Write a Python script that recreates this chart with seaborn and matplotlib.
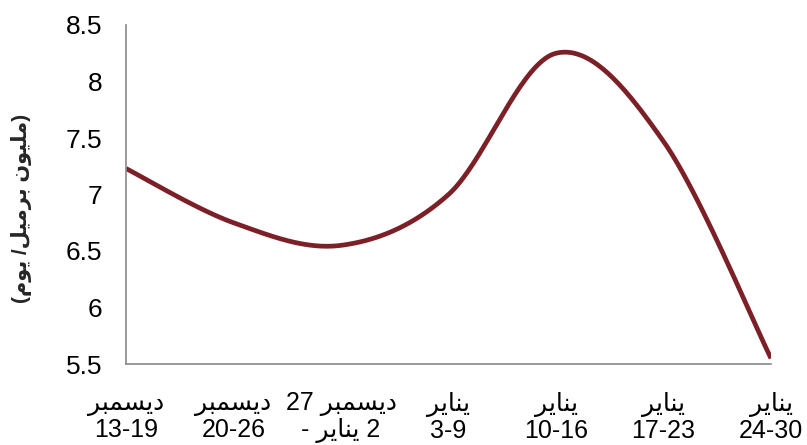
import numpy as np
import pandas as pd
import seaborn as sns
import matplotlib
matplotlib.use("Agg")
import matplotlib.pyplot as plt

# ----- Data -----
# Arabic words are written with presentation forms in visual order,
# because matplotlib does no Arabic shaping / bidi on its own.
DEC = "\uFEAE\uFE92\uFEE4\uFEB4\uFEF3\uFEA9"   # ديسمبر
JAN = "\uFEAE\uFEF3\uFE8E\uFEE8\uFEF3"          # يناير

week_labels = [
    DEC + "\n13-19",
    DEC + "\n20-26",
    "27 " + DEC + "\n- " + JAN + " 2",
    JAN + "\n3-9",
    JAN + "\n10-16",
    JAN + "\n17-23",
    JAN + "\n24-30",
]
production = [7.23, 6.75, 6.55, 7.0, 8.25, 7.47, 5.55]

# (مليون برميل/ يوم)
y_title = ("(" + "\uFEE1\uFEEE\uFEF3" + " /" + "\uFEDE\uFEF4\uFEE3\uFEAE\uFE91"
           + " " + "\uFEE5\uFEEE\uFEF4\uFEE0\uFEE3" + ")")

LINE_COLOR = "#7B2027"
AXIS_GRAY = "#898989"


# ----- Helpers -----
def smooth_curve(xs, ys, n=40):
    # Excel-style smoothed line: cubic Bezier with Catmull-Rom control points
    pts = np.column_stack([xs, ys]).astype(float)
    padded = np.vstack([pts[0], pts, pts[-1]])
    t = np.linspace(0, 1, n)[:, None]
    parts = []
    for i in range(len(pts) - 1):
        p0, p1, p2, p3 = padded[i], padded[i + 1], padded[i + 2], padded[i + 3]
        c1 = p1 + (p2 - p0) / 6
        c2 = p2 - (p3 - p1) / 6
        seg = ((1 - t) ** 3) * p1 + 3 * ((1 - t) ** 2) * t * c1 \
            + 3 * (1 - t) * t ** 2 * c2 + t ** 3 * p2
        parts.append(seg if i == 0 else seg[1:])
    return np.vstack(parts)


sns.set_style("white")
plt.rcParams["font.family"] = ["Liberation Sans", "DejaVu Sans"]

fig = plt.figure(figsize=(8.07, 4.45), dpi=100)
ax = fig.add_axes([126 / 807, 1 - 364 / 445, (771 - 126) / 807, (364 - 25) / 445])

x_pos = np.arange(len(production))
curve = smooth_curve(x_pos, production)
df = pd.DataFrame({"x": curve[:, 0], "y": curve[:, 1]})
sns.lineplot(data=df, x="x", y="y", sort=False, estimator=None, ax=ax,
             color=LINE_COLOR, linewidth=3.4, solid_capstyle="butt")

ax.set_xlim(0, len(production) - 1)
ax.set_ylim(5.5, 8.5)
ax.set_yticks(np.arange(5.5, 8.51, 0.5))
ax.set_yticklabels(["5.5", "6", "6.5", "7", "7.5", "8", "8.5"])
ax.set_xticks(x_pos)
ax.set_xticklabels(week_labels)
ax.set_xlabel("")
ax.set_ylabel("")

for side in ["top", "right"]:
    ax.spines[side].set_visible(False)
for side in ["left", "bottom"]:
    ax.spines[side].set_color(AXIS_GRAY)
    ax.spines[side].set_linewidth(1.2)

ax.tick_params(axis="y", direction="out", length=6, width=1.2, color=AXIS_GRAY,
               pad=11, labelsize=19, labelcolor="black")
ax.tick_params(axis="x", direction="out", length=6, width=1.2, color=AXIS_GRAY,
               pad=14, labelsize=18, labelcolor="black")
for lbl in ax.get_xticklabels():
    lbl.set_linespacing(1.12)

fig.text(22 / 807, 1 - 208 / 445, y_title, rotation=90, ha="center", va="center",
         fontsize=15, fontweight="bold")

fig.savefig("out.png", dpi=100)
plt.close(fig)
